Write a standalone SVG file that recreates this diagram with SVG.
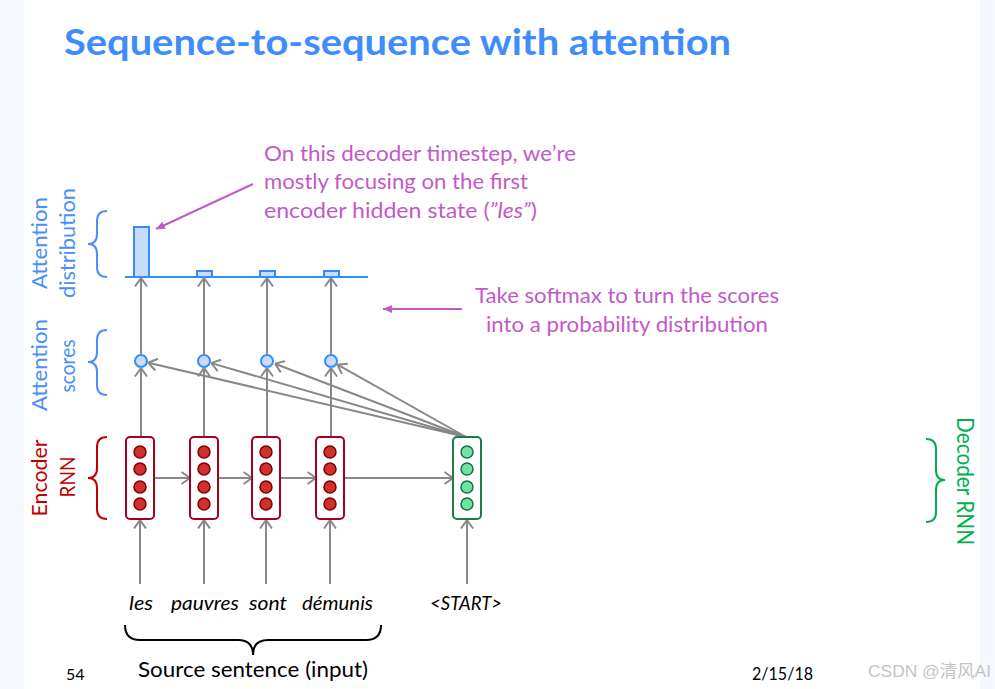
<svg xmlns="http://www.w3.org/2000/svg" width="995" height="689" viewBox="0 0 995 689">
<defs>
<style>
.t{font-family:Lato,"Open Sans","Liberation Sans",sans-serif}
.blue{fill:#4a8ff5}
.red{fill:#c00000}
.green{fill:#00b050}
.mag{fill:#c25ac6}
.arr{stroke:#888;stroke-width:2;fill:none}
.marr{stroke:#c25ac6;stroke-width:2;fill:none}
.brace{fill:none;stroke-width:2}
.ebox{fill:#fff;stroke:#a50021;stroke-width:2}
.edot{fill:#d32f2f;stroke:#7a0000;stroke-width:1.5}
.dbox{fill:#fff;stroke:#1f7a4a;stroke-width:2}
.ddot{fill:#6fe2a4;stroke:#1a7040;stroke-width:1.5}
.score{fill:#c5dcfc;stroke:#3a8af6;stroke-width:2}
.bar{fill:#c5dcfc;stroke:#3a8af6;stroke-width:2}
.it{font-style:italic;fill:#000}
</style>
<marker id="ah" viewBox="0 0 10 14" refX="9.5" refY="7" markerWidth="10" markerHeight="14" markerUnits="userSpaceOnUse" orient="auto">
<path d="M1,1 L9.5,7 L1,13" fill="none" stroke="#888" stroke-width="2"/>
</marker>
<marker id="mh" viewBox="0 0 10 10" refX="9" refY="5" markerWidth="10" markerHeight="10" markerUnits="userSpaceOnUse" orient="auto">
<path d="M0,1 L9,5 L0,9 Z" fill="#c25ac6"/>
</marker>
</defs>
<rect x="0" y="0" width="995" height="689" fill="#fff"/>
<rect x="0" y="0" width="24" height="689" fill="#f6f9ff"/>
<rect x="980" y="0" width="15" height="689" fill="#f6f9ff"/>

<text id="title" class="t" x="64" y="55" font-size="37" font-weight="bold" fill="#3f8dfc" textLength="667" lengthAdjust="spacingAndGlyphs">Sequence-to-sequence with attention</text>

<g id="connectors">
<!-- inputs -->
<line class="arr" x1="140" y1="584" x2="140" y2="520" marker-end="url(#ah)"/>
<line class="arr" x1="204" y1="584" x2="204" y2="520" marker-end="url(#ah)"/>
<line class="arr" x1="266" y1="584" x2="266" y2="520" marker-end="url(#ah)"/>
<line class="arr" x1="330" y1="584" x2="330" y2="520" marker-end="url(#ah)"/>
<line class="arr" x1="467" y1="584" x2="467" y2="520" marker-end="url(#ah)"/>
<!-- recurrent -->
<line class="arr" x1="154" y1="478" x2="190" y2="478" marker-end="url(#ah)"/>
<line class="arr" x1="218" y1="478" x2="252" y2="478" marker-end="url(#ah)"/>
<line class="arr" x1="280" y1="478" x2="316" y2="478" marker-end="url(#ah)"/>
<line class="arr" x1="344" y1="478" x2="453" y2="478" marker-end="url(#ah)"/>
<!-- encoder to scores -->
<line class="arr" x1="141" y1="437" x2="141" y2="368" marker-end="url(#ah)"/>
<line class="arr" x1="204" y1="437" x2="204" y2="368" marker-end="url(#ah)"/>
<line class="arr" x1="267" y1="437" x2="267" y2="368" marker-end="url(#ah)"/>
<line class="arr" x1="331" y1="437" x2="331" y2="368" marker-end="url(#ah)"/>
<!-- decoder to scores -->
<line class="arr" x1="466" y1="437" x2="148.3" y2="362.7" marker-end="url(#ah)"/>
<line class="arr" x1="466" y1="437" x2="211.2" y2="363.1" marker-end="url(#ah)"/>
<line class="arr" x1="466" y1="437" x2="275" y2="363.7" marker-end="url(#ah)"/>
<line class="arr" x1="466" y1="437" x2="337.5" y2="364.7" marker-end="url(#ah)"/>
<!-- scores to distribution -->
<line class="arr" x1="141" y1="354" x2="141" y2="278" marker-end="url(#ah)"/>
<line class="arr" x1="204" y1="354" x2="204" y2="278" marker-end="url(#ah)"/>
<line class="arr" x1="267" y1="354" x2="267" y2="278" marker-end="url(#ah)"/>
<line class="arr" x1="331" y1="354" x2="331" y2="278" marker-end="url(#ah)"/>
<!-- annotations -->
<line class="marr" x1="253" y1="184" x2="156" y2="229" marker-end="url(#mh)"/>
<line class="marr" x1="462" y1="309" x2="383" y2="309" marker-end="url(#mh)"/>
</g>

<g id="distribution">
<line x1="125" y1="277" x2="368" y2="277" stroke="#3a8af6" stroke-width="2"/>
<rect class="bar" x="134" y="227" width="15" height="50"/>
<rect class="bar" x="197" y="271" width="15" height="6"/>
<rect class="bar" x="260" y="271" width="15" height="6"/>
<rect class="bar" x="324" y="271" width="15" height="6"/>
</g>

<g id="scores">
<circle class="score" cx="141" cy="361" r="6"/>
<circle class="score" cx="204" cy="361" r="6"/>
<circle class="score" cx="267" cy="361" r="6"/>
<circle class="score" cx="331" cy="361" r="6"/>
</g>

<g id="enc1">
<rect class="ebox" x="126" y="437" width="28" height="82" rx="4"/>
<circle class="edot" cx="140" cy="452" r="6"/><circle class="edot" cx="140" cy="469" r="6"/><circle class="edot" cx="140" cy="487" r="6"/><circle class="edot" cx="140" cy="504" r="6"/>
</g>
<g id="enc2">
<rect class="ebox" x="190" y="437" width="28" height="82" rx="4"/>
<circle class="edot" cx="204" cy="452" r="6"/><circle class="edot" cx="204" cy="469" r="6"/><circle class="edot" cx="204" cy="487" r="6"/><circle class="edot" cx="204" cy="504" r="6"/>
</g>
<g id="enc3">
<rect class="ebox" x="252" y="437" width="28" height="82" rx="4"/>
<circle class="edot" cx="266" cy="452" r="6"/><circle class="edot" cx="266" cy="469" r="6"/><circle class="edot" cx="266" cy="487" r="6"/><circle class="edot" cx="266" cy="504" r="6"/>
</g>
<g id="enc4">
<rect class="ebox" x="316" y="437" width="28" height="82" rx="4"/>
<circle class="edot" cx="330" cy="452" r="6"/><circle class="edot" cx="330" cy="469" r="6"/><circle class="edot" cx="330" cy="487" r="6"/><circle class="edot" cx="330" cy="504" r="6"/>
</g>
<g id="dec1">
<rect class="dbox" x="453" y="437" width="28" height="82" rx="4"/>
<circle class="ddot" cx="467" cy="452" r="6"/><circle class="ddot" cx="467" cy="469" r="6"/><circle class="ddot" cx="467" cy="487" r="6"/><circle class="ddot" cx="467" cy="504" r="6"/>
</g>

<g id="labels-left">
<path class="brace" stroke="#4a8ff5" d="M107,211 Q97,211 97,221 L97,234 Q97,244 88,244 Q97,244 97,254 L97,267 Q97,277 107,277"/>
<path class="brace" stroke="#4a8ff5" d="M107,330 Q97,330 97,340 L97,352 Q97,362 88,362 Q97,362 97,372 L97,385 Q97,395 107,395"/>
<path class="brace" stroke="#c00000" d="M107,437 Q97,437 97,447 L97,468 Q97,478 88,478 Q97,478 97,488 L97,509 Q97,519 107,519"/>
<text class="t blue" font-size="21" text-anchor="middle" x="47" y="243" transform="rotate(-90 47 243)" textLength="92" lengthAdjust="spacingAndGlyphs">Attention</text>
<text class="t blue" font-size="21" text-anchor="middle" x="75" y="243" transform="rotate(-90 75 243)" textLength="110" lengthAdjust="spacingAndGlyphs">distribution</text>
<text class="t blue" font-size="21" text-anchor="middle" x="47" y="365" transform="rotate(-90 47 365)" textLength="92" lengthAdjust="spacingAndGlyphs">Attention</text>
<text class="t blue" font-size="21" text-anchor="middle" x="75" y="366" transform="rotate(-90 75 366)" textLength="53" lengthAdjust="spacingAndGlyphs">scores</text>
<text class="t red" font-size="21" text-anchor="middle" x="47" y="478" transform="rotate(-90 47 478)" textLength="77" lengthAdjust="spacingAndGlyphs">Encoder</text>
<text class="t red" font-size="21" text-anchor="middle" x="75" y="477" transform="rotate(-90 75 477)" textLength="41" lengthAdjust="spacingAndGlyphs">RNN</text>
</g>

<g id="label-decoder">
<path class="brace" stroke="#00b050" d="M926,439 Q936,439 936,449 L936,470 Q936,480 945,480 Q936,480 936,490 L936,512 Q936,522 926,522"/>
<text class="t green" font-size="23" text-anchor="middle" x="957" y="481" transform="rotate(90 957 481)" textLength="128" lengthAdjust="spacingAndGlyphs">Decoder RNN</text>
</g>

<g id="annotation1">
<text class="t mag" font-size="21" x="264" y="161" textLength="312" lengthAdjust="spacingAndGlyphs">On this decoder timestep, we’re</text>
<text class="t mag" font-size="21" x="264" y="189" textLength="264" lengthAdjust="spacingAndGlyphs">mostly focusing on the first</text>
<text class="t mag" font-size="21" x="264" y="218" textLength="273" lengthAdjust="spacingAndGlyphs">encoder hidden state (<tspan font-style="italic">”les”</tspan>)</text>
</g>
<g id="annotation2">
<text class="t mag" font-size="21" x="475" y="303" textLength="304" lengthAdjust="spacingAndGlyphs">Take softmax to turn the scores</text>
<text class="t mag" font-size="21" x="486" y="332" textLength="282" lengthAdjust="spacingAndGlyphs">into a probability distribution</text>
</g>

<g id="words">
<text class="t it" font-size="19" x="129" y="610" textLength="24" lengthAdjust="spacingAndGlyphs">les</text>
<text class="t it" font-size="19" x="171" y="610" textLength="68" lengthAdjust="spacingAndGlyphs">pauvres</text>
<text class="t it" font-size="19" x="249" y="610" textLength="38" lengthAdjust="spacingAndGlyphs">sont</text>
<text class="t it" font-size="19" x="302" y="610" textLength="71" lengthAdjust="spacingAndGlyphs">démunis</text>
<text class="t it" font-size="19" x="430" y="610" textLength="72" lengthAdjust="spacingAndGlyphs">&lt;START&gt;</text>
</g>

<g id="source">
<path class="brace" stroke="#000" d="M125,625 Q125,640 140,640 L238,640 Q253,640 253,655 Q253,640 268,640 L366,640 Q381,640 381,625"/>
<text class="t" font-size="21" fill="#000" x="138" y="677" textLength="230" lengthAdjust="spacingAndGlyphs">Source sentence (input)</text>
</g>

<text class="t" font-size="16" fill="#000" x="66" y="680">54</text>
<text class="t" font-size="18" fill="#000" x="752" y="680" textLength="61" lengthAdjust="spacingAndGlyphs">2/15/18</text>
<text font-family="'Liberation Sans','Noto Sans CJK SC',sans-serif" font-size="17" fill="#c4c4c4" x="868" y="677" textLength="123" lengthAdjust="spacingAndGlyphs">CSDN @清风AI</text>
</svg>
